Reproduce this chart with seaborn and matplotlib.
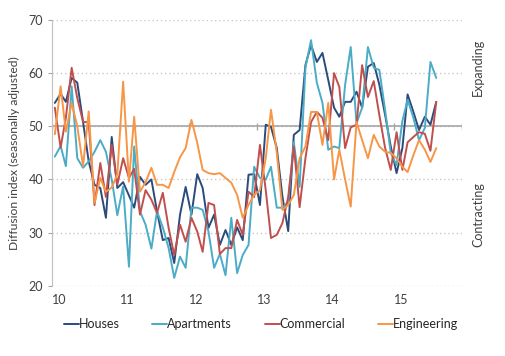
import pandas as pd
import matplotlib
matplotlib.use("Agg")
import matplotlib.pyplot as plt
import seaborn as sns

# monthly readings, Jan 2010 - Aug 2015
months = pd.date_range("2010-01-01", periods=68, freq="MS") + pd.Timedelta(days=15)

houses = [54.4, 56.1, 54.6, 59.1, 58.2, 50.8, 43.4, 39.0, 38.4, 32.8, 48.0, 38.4,
          39.5, 37.0, 34.7, 40.5, 39.0, 40.0, 34.0, 28.6, 29.0, 24.3, 33.4, 38.6,
          33.4, 41.0, 38.4, 30.9, 33.4, 27.7, 30.5, 27.7, 31.0, 28.6, 40.9, 41.0,
          35.2, 50.3, 49.9, 45.9, 36.8, 30.3, 48.4, 49.3, 61.5, 65.3, 62.1, 63.8,
          58.7, 53.5, 51.8, 54.6, 54.6, 56.5, 53.5, 61.2, 61.9, 57.8, 52.1, 46.2,
          41.2, 45.9, 56.0, 52.7, 49.3, 51.8, 50.3, 54.6]
apartments = [44.3, 46.3, 42.5, 57.5, 44.0, 42.2, 43.4, 45.2, 47.4, 45.2, 40.0, 33.3,
              38.7, 23.6, 46.2, 34.0, 31.5, 27.0, 34.0, 31.0, 27.1, 21.5, 25.5, 23.4,
              34.7, 34.7, 34.3, 30.2, 23.4, 26.0, 22.0, 32.8, 22.4, 25.8, 27.7, 42.4,
              40.3, 40.0, 42.4, 34.7, 34.7, 35.8, 47.0, 38.6, 61.0, 66.2, 58.2, 54.4,
              45.6, 46.2, 45.9, 57.8, 64.9, 50.6, 53.5, 64.9, 61.0, 60.6, 53.0, 45.0,
              42.7, 51.0, 55.0, 51.6, 47.4, 49.7, 62.1, 59.1]
commercial = [53.5, 46.0, 51.6, 61.0, 55.3, 50.8, 50.8, 35.2, 43.1, 36.7, 46.5, 39.0,
              44.0, 40.3, 42.0, 33.4, 38.0, 36.2, 33.7, 37.5, 30.9, 25.8, 31.5, 28.3,
              32.8, 30.2, 26.4, 35.6, 35.2, 26.0, 27.1, 27.1, 32.4, 29.6, 37.7, 36.7,
              46.5, 38.0, 29.0, 29.6, 31.8, 36.7, 46.2, 34.8, 44.0, 50.8, 52.7, 51.6,
              47.4, 60.0, 57.4, 45.9, 49.8, 50.3, 61.5, 55.5, 58.5, 52.1, 45.9, 41.8,
              48.9, 41.8, 47.0, 48.0, 48.9, 48.6, 45.4, 54.6]
engineering = [48.5, 57.5, 49.0, 54.4, 50.0, 42.5, 52.8, 35.6, 40.3, 37.7, 38.5, 41.0,
               58.4, 39.6, 51.8, 37.7, 39.5, 42.2, 39.0, 39.0, 38.4, 41.4, 44.2, 45.9,
               51.2, 46.9, 41.8, 41.2, 41.0, 41.2, 40.3, 39.4, 37.1, 32.8, 35.2, 37.1,
               38.0, 44.0, 53.1, 45.0, 34.3, 35.2, 37.1, 44.0, 46.2, 52.7, 52.7, 46.5,
               54.4, 40.0, 45.6, 40.0, 34.9, 50.8, 47.4, 44.0, 48.4, 46.2, 45.2, 45.0,
               44.0, 42.4, 41.4, 44.6, 47.4, 45.6, 43.3, 45.9]

series_names = ["Houses", "Apartments", "Commercial", "Engineering"]
colours = ["#2b4b7c", "#4bacc6", "#c0504d", "#f79646"]
years = [2010, 2011, 2012, 2013, 2014, 2015, 2016]
year_labels = ["10", "11", "12", "13", "14", "15", ""]

df = pd.DataFrame({"Month": months, "Houses": houses, "Apartments": apartments,
                   "Commercial": commercial, "Engineering": engineering})
long_df = df.melt(id_vars="Month", var_name="Series", value_name="Index")

sns.set_style("white")
plt.rcParams["font.family"] = ["Lato", "DejaVu Sans"]
plt.rcParams["font.size"] = 8.5

fig = plt.figure(figsize=(5.05, 3.56), dpi=100)
ax = fig.add_axes([0.103, 0.197, 0.812, 0.747])

# grid first so the lines sit on top
ax.set_ylim(20, 70)
ax.set_yticks([20, 30, 40, 50, 60, 70])
ax.yaxis.grid(True, linestyle=(0, (1, 2)), color="#c8c8c8", linewidth=1)
ax.set_axisbelow(True)
ax.axhline(50, color="#a6a6a6", linewidth=1.2, zorder=1)
tick_dates = [pd.Timestamp(f"{y}-01-01") for y in years]
ax.vlines(tick_dates, 49.3, 50.7, color="#a6a6a6", linewidth=1, zorder=1)

sns.lineplot(data=long_df, x="Month", y="Index", hue="Series",
             hue_order=series_names, palette=colours, linewidth=1.4, ax=ax)

ax.set_xlim(tick_dates[0], tick_dates[-1])
ax.set_xticks(tick_dates)
ax.set_xticklabels(year_labels, ha="left")
ax.tick_params(axis="x", length=0, pad=6, labelsize=9, colors="#404040")
ax.tick_params(axis="y", length=3, color="#a6a6a6", labelsize=9, colors="#404040", left=True)
ax.set_xlabel("")
ax.set_ylabel("Diffusion index (seasonally adjusted)", fontsize=8.7, color="#404040", labelpad=6)

for side in ["top", "right", "bottom"]:
    ax.spines[side].set_visible(False)
ax.spines["left"].set_color("#bfbfbf")

sns.move_legend(ax, "center", bbox_to_anchor=(0.51, -0.143), ncol=4, frameon=False,
                title=None, handlelength=1.2, handletextpad=0.0, columnspacing=2.6,
                fontsize=9)

fig.text(478 / 505, 1 - 67 / 356, "Expanding", rotation=90, ha="center", va="center",
         fontsize=9, color="#404040")
fig.text(478 / 505, 1 - 215 / 356, "Contracting", rotation=90, ha="center", va="center",
         fontsize=9, color="#404040")

fig.savefig("out.png", dpi=100, facecolor="white")
